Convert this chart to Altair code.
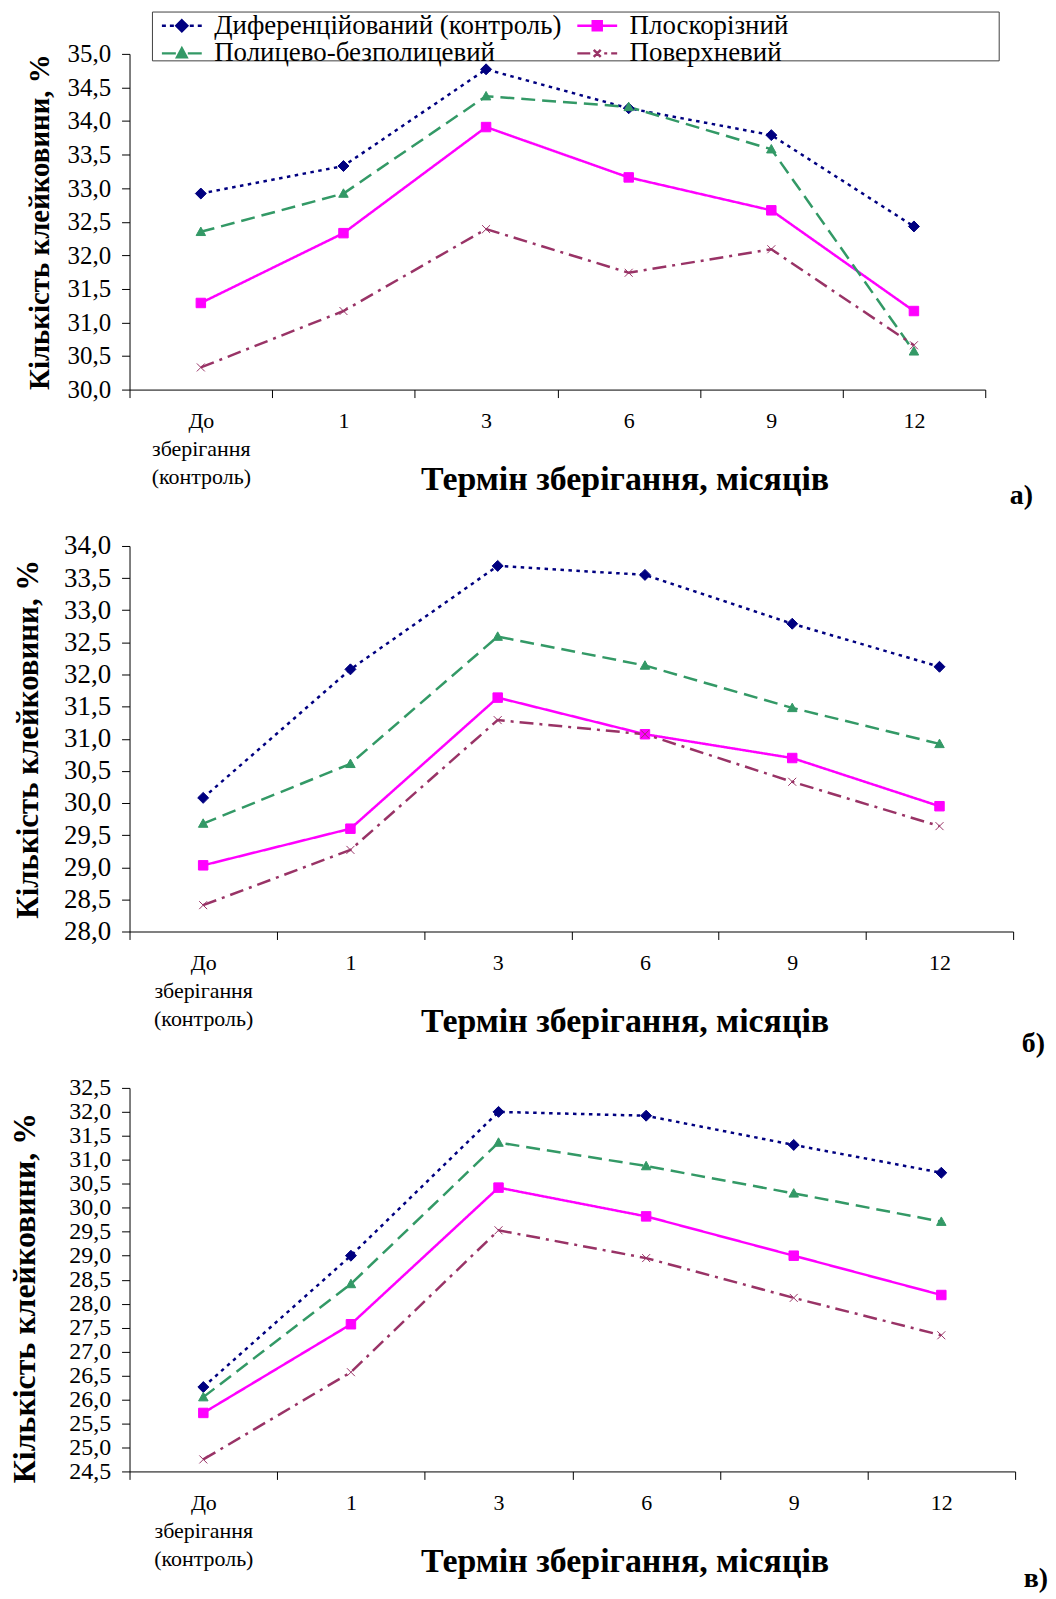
import altair as alt
import pandas as pd

FONT = "Liberation Serif"

categories = ["До зберігання (контроль)", "1", "3", "6", "9", "12"]
series = ["Диференційований (контроль)", "Плоскорізний",
          "Полицево-безполицевий", "Поверхневий"]
colors = ["#000080", "#FF00FF", "#339966", "#993366"]
dashes = [[3.5, 4.5], [1, 0], [14, 7], [14, 6, 3, 6]]
marker_paths = [
    "M0,-1.1L1.1,0L0,1.1L-1.1,0Z",
    "M-0.95,-0.95H0.95V0.95H-0.95Z",
    "M0,-0.95L0.95,0.75H-0.95Z",
    "M-0.8,-0.8L0.8,0.8M-0.8,0.8L0.8,-0.8",
]
legend_paths = [
    "M-1.1,0H-0.7M-0.3,0H0.1M1.7,0H2.1M2.5,0H2.9M0.9,-0.55L1.45,0L0.9,0.55L0.35,0Z",
    "M-1.1,0H2.9M0.45,-0.45H1.35V0.45H0.45Z",
    "M-1.1,0H0.3M1.5,0H2.9M0.9,-0.5L1.38,0.4H0.42Z",
    "M-1.1,0H0.2M1.6,0H1.9M2.3,0H2.9M0.55,-0.35L1.25,0.35M0.55,0.35L1.25,-0.35",
]

# panel а)
a_dif = [32.92, 33.33, 34.77, 34.19, 33.79, 32.43]
a_plo = [31.29, 32.33, 33.91, 33.16, 32.67, 31.17]
a_pol = [32.35, 32.92, 34.37, 34.21, 33.58, 30.57]
a_pov = [30.33, 31.17, 32.39, 31.74, 32.09, 30.66]
# panel б)
b_dif = [30.08, 32.08, 33.69, 33.55, 32.79, 32.12]
b_plo = [29.03, 29.60, 31.64, 31.07, 30.70, 29.95]
b_pol = [29.68, 30.61, 32.59, 32.14, 31.48, 30.92]
b_pov = [28.41, 29.27, 31.29, 31.07, 30.33, 29.64]
# panel в)
c_dif = [26.26, 29.00, 32.00, 31.92, 31.31, 30.73]
c_plo = [25.72, 27.57, 30.42, 29.82, 29.00, 28.18]
c_pol = [26.05, 28.41, 31.36, 30.87, 30.30, 29.71]
c_pov = [24.75, 26.57, 29.53, 28.95, 28.12, 27.34]

a_ticks = [30.0, 30.5, 31.0, 31.5, 32.0, 32.5, 33.0, 33.5, 34.0, 34.5, 35.0]
b_ticks = [28.0, 28.5, 29.0, 29.5, 30.0, 30.5, 31.0, 31.5, 32.0, 32.5, 33.0, 33.5, 34.0]
c_ticks = [24.5, 25.0, 25.5, 26.0, 26.5, 27.0, 27.5, 28.0, 28.5, 29.0, 29.5,
           30.0, 30.5, 31.0, 31.5, 32.0, 32.5]

Y_TITLE = "Кількість клейковини, %"
X_TITLE = "Термін зберігання, місяців"


def make_df(vals_by_series):
    rows = []
    for s, vals in zip(series, vals_by_series):
        for i, (c, v) in enumerate(zip(categories, vals)):
            rows.append({"series": s, "category": c, "idx": i, "value": v})
    return pd.DataFrame(rows)


one_row = pd.DataFrame({"k": [0]})


def panel(vals, ticks, width, height, tick_fs, ytitle_fs, ytitle_x, ytitle_dy, tag, tag_x,
          tag_y, with_legend=False):
    df = make_df(vals)
    x_enc = alt.X(
        "category:N",
        sort=categories,
        scale=alt.Scale(domain=categories, paddingInner=0, paddingOuter=0),
        axis=alt.Axis(
            title=X_TITLE, titleFont=FONT, titleFontSize=34, titleFontWeight="bold",
            titleColor="black", titleX=497, titleY=90, titleAlign="center",
            titleBaseline="middle",
            labelAngle=0,
            labelExpr="isValid(datum.value) ? split(datum.value, ' ') : ''",
            labelFont=FONT, labelFontSize=22, labelLineHeight=28, labelPadding=13,
            labelColor="black", labelBaseline="top", labelOverlap=False,
            tickSize=8, tickBand="extent", tickColor="black", domainColor="black",
            grid=False,
        ),
    )
    y_enc = alt.Y(
        "value:Q",
        scale=alt.Scale(domain=[ticks[0], ticks[-1]], nice=False, zero=False),
        axis=alt.Axis(
            values=ticks,
            labelExpr="replace(format(datum.value, '.1f'), '.', ',')",
            labelFont=FONT, labelFontSize=tick_fs, labelColor="black", labelPadding=11,
            tickSize=8, tickColor="black", domainColor="black", grid=False,
            title=Y_TITLE, titleFont=FONT, titleFontSize=ytitle_fs, titleFontWeight="bold",
            titleColor="black", titleX=ytitle_x, titleY=height / 2 + ytitle_dy,
            titleAngle=270, titleAlign="center", titleBaseline="middle",
        ),
    )
    color = alt.Color("series:N", scale=alt.Scale(domain=series, range=colors), legend=None)
    base = alt.Chart(df).encode(x=x_enc, y=y_enc, color=color)
    lines = base.mark_line(strokeWidth=2.5).encode(
        strokeDash=alt.StrokeDash("series:N", scale=alt.Scale(domain=series, range=dashes),
                                  legend=None),
        order=alt.Order("idx:Q"),
    )
    points = base.mark_point(filled=True, opacity=1, strokeWidth=1, size=100).encode(
        shape=alt.Shape("series:N", scale=alt.Scale(domain=series, range=marker_paths),
                        legend=None),
        stroke=alt.Stroke("series:N", scale=alt.Scale(domain=series, range=colors),
                          legend=None),
    )
    tag_mark = alt.Chart(one_row).mark_text(
        text=tag, font=FONT, fontSize=28, fontWeight="bold", align="right",
        baseline="middle", color="black",
    ).encode(x=alt.value(tag_x), y=alt.value(tag_y))

    layers = []
    if with_legend:
        box = alt.Chart(one_row).mark_rect(fill="white", stroke="#404040", strokeWidth=1).encode(
            x=alt.value(23), x2=alt.value(873), y=alt.value(-42), y2=alt.value(7)
        )
        layers.append(box)
    layers += [lines, points]
    if with_legend:
        def leg():
            return alt.Legend(
                orient="none", legendX=30, legendY=-42, columns=2, direction="horizontal",
                title=None, symbolSize=400, symbolStrokeWidth=2.5, symbolOpacity=1,
                labelFont=FONT, labelFontSize=27, labelColor="black", labelOffset=28,
                labelLimit=1000, columnPadding=10, rowPadding=0, padding=0,
            )
        leg_layer = alt.Chart(pd.DataFrame({"series": series})).mark_point(
            filled=True, opacity=0, size=400
        ).encode(
            color=alt.Color("series:N", scale=alt.Scale(domain=series, range=colors),
                            legend=leg()),
            stroke=alt.Stroke("series:N", scale=alt.Scale(domain=series, range=colors),
                              legend=leg()),
            shape=alt.Shape("series:N", scale=alt.Scale(domain=series, range=legend_paths),
                            legend=leg()),
        )
        layers.append(leg_layer)
    layers.append(tag_mark)
    return alt.layer(*layers).resolve_scale(
        color="independent", shape="independent", stroke="independent",
        strokeDash="independent",
    ).properties(width=width, height=height)


pa = panel([a_dif, a_plo, a_pol, a_pov], a_ticks, 859, 337, 25, 29, -90, 0, "а)", 907, 444,
           with_legend=True)
pb = panel([b_dif, b_plo, b_pol, b_pov], b_ticks, 887, 387, 27, 31, -101, 0, "б)", 919, 500)
pc = panel([c_dif, c_plo, c_pol, c_pov], c_ticks, 889, 385, 24, 32, -105, 18, "в)", 922, 493)

chart = alt.vconcat(pa, pb, pc, spacing=157, bounds="flush").resolve_scale(
    color="independent", shape="independent", stroke="independent",
    strokeDash="independent",
).properties(padding=0).configure(font=FONT).configure_view(strokeWidth=0)

chart.save("out.html", embed_options={"renderer": "svg", "actions": False})
